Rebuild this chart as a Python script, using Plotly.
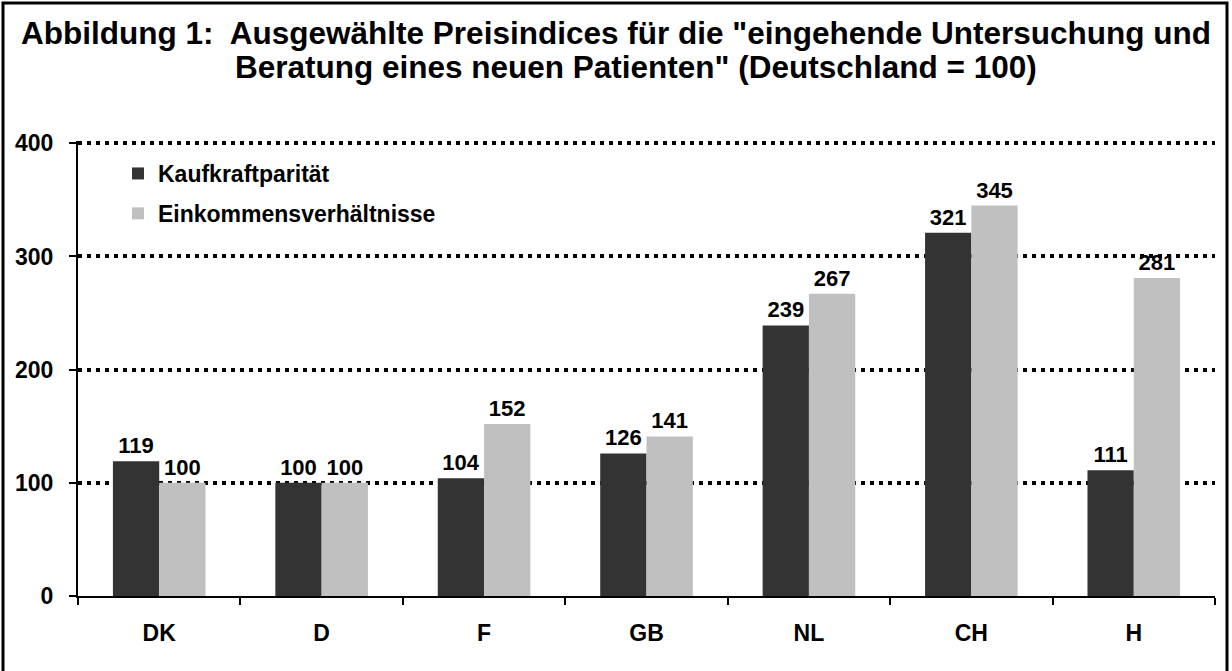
import plotly.graph_objects as go

laender = ["DK", "D", "F", "GB", "NL", "CH", "H"]
kaufkraft = [119, 100, 104, 126, 239, 321, 111]
einkommen = [100, 100, 152, 141, 267, 345, 281]
y_ticks = [0, 100, 200, 300, 400]

FONT = "Liberation Sans, Arial, sans-serif"
W, H = 1232, 671
L, R, T, B = 78, 17, 141, 75
PW, PH = W - L - R, H - T - B


def px_x(x):
    # Seitenpixel -> paper-Koordinate
    return (x - L) / PW


def px_y(y):
    return (H - B - y) / PH


fig = go.Figure()
fig.add_bar(x=laender, y=kaufkraft, name="Kaufkraftparität",
            marker_color="#333333", marker_line_width=0,
            text=kaufkraft, textposition="outside", cliponaxis=False,
            textfont=dict(family=FONT, size=22, color="black", weight="bold"),
            legendgroup="a")
fig.add_bar(x=laender, y=einkommen, name="Einkommensverhältnisse",
            marker_color="#c0c0c0", marker_line_width=0,
            text=einkommen, textposition="outside", cliponaxis=False,
            textfont=dict(family=FONT, size=22, color="black", weight="bold"),
            legendgroup="b")

fig.update_layout(
    width=W, height=H,
    margin=dict(l=L, r=R, t=T, b=B),
    paper_bgcolor="white", plot_bgcolor="white",
    barmode="group", bargap=0.43, bargroupgap=0,
    showlegend=True,
    legend=dict(x=px_x(118), y=px_y(152), xanchor="left", yanchor="top",
                font=dict(family=FONT, size=23, color="black", weight="bold"),
                bgcolor="rgba(0,0,0,0)", tracegroupgap=7),
    font=dict(family=FONT, color="black"),
)

# Titel in zwei Zeilen
fig.add_annotation(
    text='Abbildung 1:  Ausgewählte Preisindices für die "eingehende Untersuchung und',
    xref="paper", yref="paper", x=px_x(616), y=px_y(33),
    xanchor="center", yanchor="middle", showarrow=False,
    font=dict(family=FONT, size=31.5, color="black", weight="bold"))
fig.add_annotation(
    text='Beratung eines neuen Patienten" (Deutschland = 100)',
    xref="paper", yref="paper", x=px_x(636), y=px_y(67),
    xanchor="center", yanchor="middle", showarrow=False,
    font=dict(family=FONT, size=31.5, color="black", weight="bold"))

fig.update_yaxes(range=[0, 402], tickvals=y_ticks,
                 showgrid=True, gridcolor="black", gridwidth=4, griddash="4px,5px",
                 showline=True, linecolor="black", linewidth=2,
                 zeroline=False, ticks="outside", ticklen=7, tickwidth=2,
                 tickcolor="black", ticklabelstandoff=11,
                 tickfont=dict(family=FONT, size=23, color="black", weight="bold"))
fig.update_xaxes(showline=True, linecolor="black", linewidth=2,
                 ticks="outside", ticklen=7, tickwidth=2, tickcolor="black",
                 tickson="boundaries", ticklabelstandoff=15,
                 tickfont=dict(family=FONT, size=23, color="black", weight="bold"))

# Rahmen um die ganze Grafik
fig.add_shape(type="rect", xref="paper", yref="paper",
              x0=px_x(3), x1=px_x(1227), y0=px_y(690), y1=px_y(3),
              line=dict(color="black", width=3), fillcolor="rgba(0,0,0,0)")

fig.write_html("out.html", config={"displayModeBar": False},
               post_script="document.body.style.margin='0px';"
                           "document.body.style.overflow='hidden';")
